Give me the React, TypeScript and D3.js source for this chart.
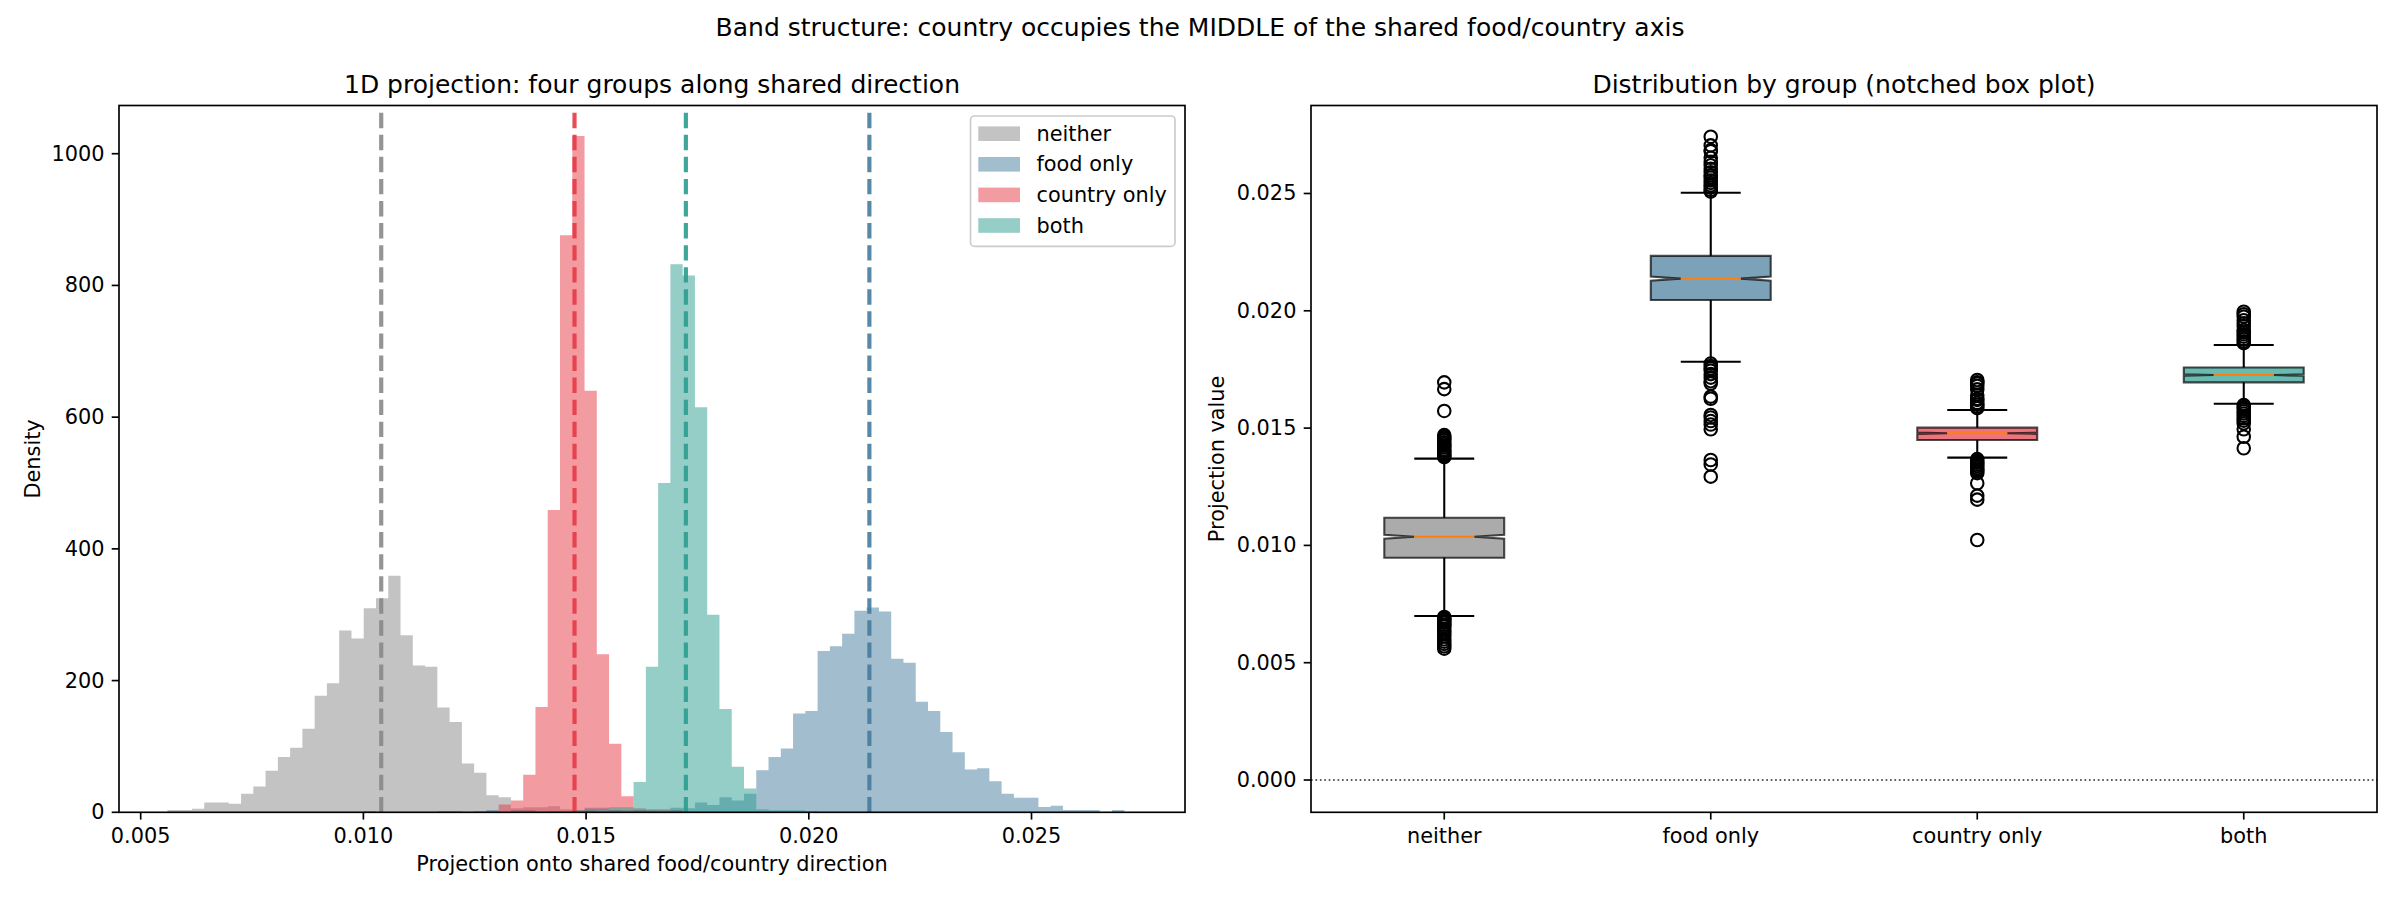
import React from 'react';
import * as d3 from 'd3';

// ---------------- data ----------------
const groups = ['neither', 'food only', 'country only', 'both'];
const groupColors = ['#888888', '#457b9d', '#e63946', '#2a9d8f'];

// shared histogram bins (linspace over all data, 79 bins)
const histRange = [0.005601, 0.027358];
const binCount = 79;

// density per bin, starting at the given bin index
const neitherStart = 0;
const neitherDensity = [3.6, 3.6, 5.5, 15, 15, 13, 28, 39, 63, 84, 98, 127, 177, 196, 276, 264, 310, 325, 359, 269, 223, 221, 159, 137, 74, 60, 26, 23, 6, 7.5, 7.5, 9, 4.5, 3.6, 3.6, 0, 3.6, 3.6, 3.6, 0, 3.6, 3.6];
const foodStart = 26;
const foodDensity = [3.6, 0, 3.6, 3.6, 0, 0, 0, 0, 7, 7, 3.6, 0, 3.6, 3.6, 0, 7, 6, 15, 11, 23, 18, 28, 64, 84, 97, 150, 154, 245, 252, 271, 306, 311, 305, 233, 227, 168, 154, 122, 91, 65, 67, 47, 28, 22, 22, 8, 10, 3.6, 3.6, 3.6, 0, 3.6];
const countryStart = 16;
const countryDensity = [1.5, 0, 0, 0, 0, 0, 1.5, 1.5, 0, 1.5, 1.5, 12, 18, 57, 160, 459, 876, 1027, 640, 240, 104, 24.5, 6, 4.5, 4.5, 3];
const bothStart = 31;
const bothDensity = [1.5, 1.5, 3, 4.5, 4.5, 7.5, 7.5, 46, 221, 500, 832, 815, 615, 300, 157, 69, 36, 4.5, 3, 3, 3, 1.5];

const groupMeans = [0.0104, 0.02136, 0.01474, 0.01724];

const histXTicks = [0.005, 0.01, 0.015, 0.02, 0.025];
const histYTicks = [0, 200, 400, 600, 800, 1000];
const boxYTicks = [0, 0.005, 0.01, 0.015, 0.02, 0.025];

// box plot statistics
const sampleSize = 1000;
const boxQ1 = [0.009476, 0.02046, 0.01449, 0.01695];
const boxMedian = [0.01037, 0.02137, 0.01478, 0.01726];
const boxQ3 = [0.01118, 0.02234, 0.01502, 0.01758];
const whiskerLow = [0.00699, 0.01783, 0.01374, 0.01604];
const whiskerHigh = [0.0137, 0.02503, 0.01577, 0.01854];

const neitherFliers = [0.01695, 0.01666, 0.01573, 0.0147, 0.01462, 0.01455, 0.01448, 0.0144, 0.01432, 0.01425, 0.01418, 0.0141, 0.01403, 0.01396, 0.0139, 0.01385, 0.0138, 0.01376,
  0.00695, 0.0069, 0.00683, 0.00676, 0.0067, 0.00662, 0.00655, 0.00645, 0.00635, 0.00625, 0.00612, 0.006, 0.0059, 0.0058, 0.0057, 0.0056];
const foodFliers = [0.02742, 0.02705, 0.02685, 0.0268, 0.02652, 0.02635, 0.0262, 0.02605, 0.0259, 0.02578, 0.02568, 0.02555, 0.02545, 0.02535, 0.02525, 0.02515, 0.02508,
  0.01775, 0.01765, 0.01755, 0.01745, 0.0173, 0.01715, 0.017, 0.0169, 0.01634, 0.01625, 0.01556, 0.01545, 0.0153, 0.01515, 0.01495, 0.01364, 0.01345, 0.01293];
const countryFliers = [0.01705, 0.01695, 0.0169, 0.0168, 0.01665, 0.0164, 0.01625, 0.0162, 0.01608, 0.016, 0.01592, 0.01585,
  0.01368, 0.0136, 0.01352, 0.01345, 0.01338, 0.0133, 0.01322, 0.01315, 0.01308, 0.01265, 0.01212, 0.01195, 0.01023];
const bothFliers = [0.01996, 0.01985, 0.01975, 0.0196, 0.01947, 0.01935, 0.01918, 0.01908, 0.019, 0.0189, 0.0188, 0.0187, 0.01862,
  0.01598, 0.0159, 0.01582, 0.01572, 0.01562, 0.01552, 0.01542, 0.01532, 0.0152, 0.01495, 0.01463, 0.01414];

const histStarts = [neitherStart, foodStart, countryStart, bothStart];
const histDensities = [neitherDensity, foodDensity, countryDensity, bothDensity];
const fliers = [neitherFliers, foodFliers, countryFliers, bothFliers];

// ---------------- layout ----------------
const W = 2400, H = 900;
const top = 105.5, bottom = 812.3;
const L = { x0: 119, x1: 1185 };
const R = { x0: 1311, x1: 2377 };
const FONT = 'DejaVu Sans, sans-serif';
const tickLen = 7.3;
const tickW = 1.67;

const xL = d3.scaleLinear().domain([0.004513, 0.028446]).range([L.x0, L.x1]);
const yL = d3.scaleLinear().domain([0, 1073.2]).range([bottom, top]);
const xR = d3.scaleLinear().domain([0.5, 4.5]).range([R.x0, R.x1]);
const yR = d3.scaleLinear().domain([-0.001376, 0.02875]).range([bottom, top]);

const binW = (histRange[1] - histRange[0]) / binCount;

function histPath(start: number, vals: number[]) {
  const p = d3.path();
  const e0 = histRange[0] + start * binW;
  p.moveTo(xL(e0), yL(0));
  vals.forEach((v, i) => {
    const a = histRange[0] + (start + i) * binW;
    const b = a + binW;
    p.lineTo(xL(a), yL(v));
    p.lineTo(xL(b), yL(v));
  });
  p.lineTo(xL(histRange[0] + (start + vals.length) * binW), yL(0));
  p.closePath();
  return p.toString();
}

export default function App() {
  const fmt3 = d3.format('.3f');
  const boxW = 0.45;
  return (
    <svg width={W} height={H} style={{ position: 'absolute', left: 0, top: 0, display: 'block' }} fontFamily={FONT}>
      <rect x={0} y={0} width={W} height={H} fill="#fff" />
      <text x={1200} y={36} fontSize={25} textAnchor="middle">Band structure: country occupies the MIDDLE of the shared food/country axis</text>

      {/* ---------- left: histogram ---------- */}
      <text x={(L.x0 + L.x1) / 2} y={93} fontSize={25} textAnchor="middle">1D projection: four groups along shared direction</text>
      {groups.map((g, i) => (
        <path key={g} d={histPath(histStarts[i], histDensities[i])} fill={groupColors[i]} fillOpacity={0.5} />
      ))}
      {groupMeans.map((m, i) => (
        <line key={i} x1={xL(m)} x2={xL(m)} y1={bottom} y2={top} stroke={groupColors[i]} strokeOpacity={0.9}
          strokeWidth={4.17} strokeDasharray="15.4,6.67" />
      ))}
      {/* legend */}
      <rect x={970.5} y={116} width={204.5} height={130.4} rx={4} fill="#fff" fillOpacity={0.8} stroke="#cccccc" strokeWidth={1.67} />
      {groups.map((g, i) => {
        const cy = 133.7 + i * 30.6;
        return (
          <g key={g}>
            <rect x={978.3} y={cy - 7.3} width={41.7} height={14.6} fill={groupColors[i]} fillOpacity={0.5} />
            <text x={1036.5} y={cy} fontSize={20.83} dominantBaseline="central">{g}</text>
          </g>
        );
      })}
      {/* axes */}
      {histXTicks.map((t) => (
        <g key={t}>
          <line x1={xL(t)} x2={xL(t)} y1={bottom} y2={bottom + tickLen} stroke="#000" strokeWidth={tickW} />
          <text x={xL(t)} y={842.7} fontSize={20.83} textAnchor="middle">{fmt3(t)}</text>
        </g>
      ))}
      {histYTicks.map((t) => (
        <g key={t}>
          <line x1={L.x0 - tickLen} x2={L.x0} y1={yL(t)} y2={yL(t)} stroke="#000" strokeWidth={tickW} />
          <text x={L.x0 - 14.6} y={yL(t)} fontSize={20.83} textAnchor="end" dominantBaseline="central">{t}</text>
        </g>
      ))}
      <text x={(L.x0 + L.x1) / 2} y={871} fontSize={20.83} textAnchor="middle">Projection onto shared food/country direction</text>
      <text transform={`translate(33,${(top + bottom) / 2}) rotate(-90)`} fontSize={20.83} textAnchor="middle" dominantBaseline="central">Density</text>
      <rect x={L.x0} y={top} width={L.x1 - L.x0} height={bottom - top} fill="none" stroke="#000" strokeWidth={1.67} />

      {/* ---------- right: box plot ---------- */}
      <text x={(R.x0 + R.x1) / 2} y={93} fontSize={25} textAnchor="middle">Distribution by group (notched box plot)</text>
      <line x1={R.x0} x2={R.x1} y1={yR(0)} y2={yR(0)} stroke="#000" strokeOpacity={0.85} strokeWidth={1.5} strokeDasharray="1.67,2.75" />
      {groups.map((g, i) => {
        const pos = i + 1;
        const l = xR(pos - boxW / 2), r = xR(pos + boxW / 2);
        const nl = xR(pos - boxW / 4), nr = xR(pos + boxW / 4);
        const cl = xR(pos - boxW / 4), cr = xR(pos + boxW / 4);
        const iqr = boxQ3[i] - boxQ1[i];
        const ci = 1.57 * iqr / Math.sqrt(sampleSize);
        const med = boxMedian[i];
        const p = d3.path();
        p.moveTo(l, yR(boxQ1[i]));
        p.lineTo(r, yR(boxQ1[i]));
        p.lineTo(r, yR(med - ci));
        p.lineTo(nr, yR(med));
        p.lineTo(r, yR(med + ci));
        p.lineTo(r, yR(boxQ3[i]));
        p.lineTo(l, yR(boxQ3[i]));
        p.lineTo(l, yR(med + ci));
        p.lineTo(nl, yR(med));
        p.lineTo(l, yR(med - ci));
        p.closePath();
        const cx = xR(pos);
        return (
          <g key={g}>
            <path d={p.toString()} fill={groupColors[i]} fillOpacity={0.7} stroke="#000" strokeOpacity={0.7} strokeWidth={2.08} strokeLinejoin="miter" />
            <line x1={cx} x2={cx} y1={yR(boxQ1[i])} y2={yR(whiskerLow[i])} stroke="#000" strokeWidth={2.08} />
            <line x1={cx} x2={cx} y1={yR(boxQ3[i])} y2={yR(whiskerHigh[i])} stroke="#000" strokeWidth={2.08} />
            <line x1={cl} x2={cr} y1={yR(whiskerLow[i])} y2={yR(whiskerLow[i])} stroke="#000" strokeWidth={2.08} />
            <line x1={cl} x2={cr} y1={yR(whiskerHigh[i])} y2={yR(whiskerHigh[i])} stroke="#000" strokeWidth={2.08} />
            <line x1={nl} x2={nr} y1={yR(med)} y2={yR(med)} stroke="#ff7f0e" strokeWidth={2.08} />
            {fliers[i].map((f, j) => (
              <circle key={j} cx={cx} cy={yR(f)} r={6.25} fill="none" stroke="#000" strokeWidth={2.08} />
            ))}
          </g>
        );
      })}
      {groups.map((g, i) => (
        <g key={g}>
          <line x1={xR(i + 1)} x2={xR(i + 1)} y1={bottom} y2={bottom + tickLen} stroke="#000" strokeWidth={tickW} />
          <text x={xR(i + 1)} y={842.7} fontSize={20.83} textAnchor="middle">{g}</text>
        </g>
      ))}
      {boxYTicks.map((t) => (
        <g key={t}>
          <line x1={R.x0 - tickLen} x2={R.x0} y1={yR(t)} y2={yR(t)} stroke="#000" strokeWidth={tickW} />
          <text x={R.x0 - 14.6} y={yR(t)} fontSize={20.83} textAnchor="end" dominantBaseline="central">{fmt3(t)}</text>
        </g>
      ))}
      <text transform={`translate(1217,${(top + bottom) / 2}) rotate(-90)`} fontSize={20.83} textAnchor="middle" dominantBaseline="central">Projection value</text>
      <rect x={R.x0} y={top} width={R.x1 - R.x0} height={bottom - top} fill="none" stroke="#000" strokeWidth={1.67} />
    </svg>
  );
}
